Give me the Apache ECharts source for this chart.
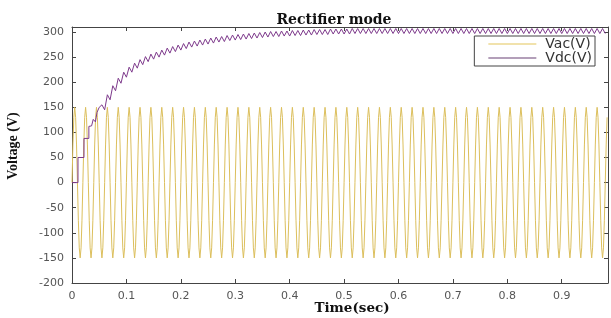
<!DOCTYPE html>
<html>
<head>
<meta charset="UTF-8">
<title>Rectifier mode</title>
<style>
  body { margin: 0; background: #fff; }
  #chart { width: 611px; height: 318px; }
</style>
<script src="https://cdn.jsdelivr.net/npm/echarts@6.0.0/dist/echarts.min.js"></script>
</head>
<body>
<div id="chart"></div>
<script>
// one 50 Hz cycle of Vac (V), repeated over the run
const vacCycle = [0, 75, 130, 150, 130, 75, 0, -75, -130, -150, -130, -75];
const vacPeriod = 0.02;
const tEnd = 0.985;

// Vdc start-up staircase (first few half cycles)
const vdcStepT = [0, 0.011, 0.011, 0.022, 0.022, 0.031, 0.031, 0.036, 0.039, 0.043, 0.046, 0.05];
const vdcStepV = [0, 0, 50, 50, 88, 88, 112, 113, 126, 121, 140, 150];

// Vdc mean level every 0.01 s from 0.05 s, and ripple half-height
const vdcMeanStart = 0.05;
const vdcMean = [
  150, 170, 188, 203, 215, 225, 233, 240, 246, 251,
  255, 259, 263, 266, 269, 272, 275, 277, 279, 281,
  283, 285, 286, 288, 289, 290, 291, 292, 293, 294,
  295, 296, 296, 297, 297, 298, 298, 299, 299, 300,
  300, 300, 301, 301, 301, 301, 302, 302, 302, 302,
  302, 302, 302, 302, 302, 302, 302, 302, 302, 302,
  302, 302, 302, 302, 302, 302, 302, 302, 302, 302,
  302, 302, 302, 302, 302, 302, 302, 302, 302, 302,
  302, 302, 302, 302, 302, 302, 302, 302, 302, 302,
  302, 302, 302, 302
];
const vdcRipple = 5;

const yTicks = [-200, -150, -100, -50, 0, 50, 100, 150, 200, 250, 300];

// build series points
const vacData = [];
const step = vacPeriod / vacCycle.length;
for (let i = 0; i * step <= tEnd; i++) {
  vacData.push([i * step, vacCycle[i % vacCycle.length]]);
}

const vdcData = vdcStepT.map((t, i) => [t, vdcStepV[i]]);
vdcMean.forEach((v, k) => {
  const t = vdcMeanStart + k * 0.01;
  if (t + 0.005 <= tEnd) {
    vdcData.push([t + 0.005, v + vdcRipple]);
    vdcData.push([t + 0.01, v - vdcRipple]);
  }
});

const chart = echarts.init(document.getElementById('chart'));

const tickFont = { fontFamily: 'DejaVu Sans', fontSize: 11, color: '#555' };
const axisLine = { show: true, onZero: false, lineStyle: { color: '#444', width: 1 } };
const axisTick = { inside: true, length: 4, lineStyle: { color: '#444' } };

const option = {
  animation: false,
  backgroundColor: '#fff',
  title: {
    text: 'Rectifier mode',
    left: 329,
    textAlign: 'center',
    top: 8,
    textStyle: { fontFamily: 'DejaVu Serif', fontWeight: 'bold', fontSize: 14, color: '#111' }
  },
  graphic: [{
    type: 'text',
    x: 13,
    y: 146,
    rotation: Math.PI / 2,
    style: {
      text: 'Voltage (V)',
      align: 'center',
      verticalAlign: 'middle',
      font: 'bold 14px "Liberation Serif"',
      fill: '#111'
    }
  }, {
    type: 'text',
    x: 352,
    y: 308,
    style: {
      text: 'Time(sec)',
      align: 'center',
      verticalAlign: 'middle',
      font: 'bold 13.5px "DejaVu Serif"',
      fill: '#111'
    }
  }],
  legend: {
    orient: 'vertical',
    right: 16,
    top: 36,
    padding: [1, 3, 1, 14],
    itemGap: 0,
    itemWidth: 48,
    itemHeight: 1.5,
    icon: 'rect',
    backgroundColor: '#fff',
    borderColor: '#444',
    borderWidth: 1,
    borderRadius: 0,
    textStyle: { fontFamily: 'DejaVu Sans', fontSize: 14, lineHeight: 13, color: '#333', padding: [0, 0, 0, 4] },
    data: [
      { name: 'Vac(V)', itemStyle: { color: '#ecd890' } },
      { name: 'Vdc(V)', itemStyle: { color: '#9a7fa2' } }
    ]
  },
  grid: { left: 72, right: 2, top: 27, bottom: 35 },
  xAxis: [{
    type: 'value',
    min: 0,
    max: tEnd,
    interval: 0.1,
    axisLine: axisLine,
    axisTick: axisTick,
    splitLine: { show: false },
    axisLabel: Object.assign({
      margin: 8,
      formatter: v => Math.abs(v * 10 - Math.round(v * 10)) < 1e-6 ? String(+v.toFixed(1)) : ''
    }, tickFont)
  }, {
    type: 'value',
    position: 'top',
    min: 0,
    max: tEnd,
    interval: 0.1,
    axisLine: axisLine,
    axisTick: axisTick,
    axisLabel: { show: false },
    splitLine: { show: false }
  }],
  yAxis: [{
    type: 'value',
    min: -200,
    max: 310,
    interval: 50,
    axisLine: axisLine,
    axisTick: axisTick,
    splitLine: { show: false },
    axisLabel: Object.assign({
      margin: 8,
      formatter: v => yTicks.indexOf(v) >= 0 ? String(v) : ''
    }, tickFont)
  }, {
    type: 'value',
    position: 'right',
    min: -200,
    max: 310,
    interval: 50,
    axisLine: axisLine,
    axisTick: axisTick,
    axisLabel: { show: false },
    splitLine: { show: false }
  }],
  series: [{
    name: 'Vac(V)',
    type: 'line',
    data: vacData,
    showSymbol: false,
    symbol: 'none',
    lineStyle: { color: '#dcbf5c', width: 1 },
    itemStyle: { color: '#dcbf5c' }
  }, {
    name: 'Vdc(V)',
    type: 'line',
    data: vdcData,
    showSymbol: false,
    symbol: 'none',
    lineStyle: { color: '#7e3a8c', width: 1 },
    itemStyle: { color: '#7e3a8c' }
  }]
};

chart.setOption(option);
</script>
</body>
</html>
